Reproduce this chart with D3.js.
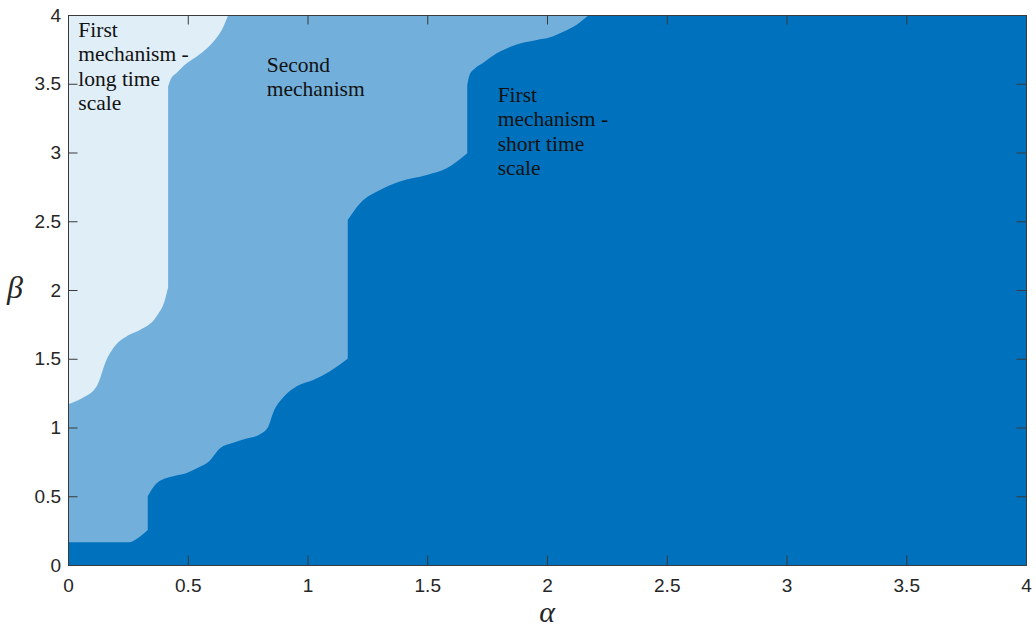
<!DOCTYPE html>
<html>
<head>
<meta charset="utf-8">
<script src="https://cdn.jsdelivr.net/npm/d3@7"></script>
<style>
  html, body { margin: 0; padding: 0; background: #ffffff; }
  svg { display: block; }
</style>
</head>
<body>
<svg id="chart" width="1036" height="629"></svg>
<script>
// Axis ticks
const xTicks = [0, 0.5, 1, 1.5, 2, 2.5, 3, 3.5, 4];
const yTicks = [0, 0.5, 1, 1.5, 2, 2.5, 3, 3.5, 4];

// Boundary between "first mechanism - long time scale" and "second mechanism"
const longAlpha = [0, 0.06, 0.12, 0.16, 0.19, 0.25, 0.30, 0.37, 0.405, 0.418, 0.418, 0.428, 0.454, 0.496, 0.530, 0.572, 0.607, 0.642, 0.669];
const longBeta  = [1.17, 1.215, 1.30, 1.49, 1.58, 1.67, 1.71, 1.81, 1.93, 2.02, 3.48, 3.53, 3.58, 3.649, 3.689, 3.745, 3.806, 3.891, 4.0];

// Boundary between "second mechanism" and "first mechanism - short time scale"
const shortAlpha = [0, 0.12, 0.252, 0.30, 0.333, 0.333, 0.37, 0.426, 0.496, 0.551, 0.586, 0.635, 0.69, 0.746, 0.80, 0.836, 0.857, 0.899, 0.955, 1.024, 1.094, 1.168, 1.168, 1.219, 1.303, 1.386, 1.498, 1.581, 1.667, 1.667, 1.676, 1.70, 1.734, 1.79, 1.859, 1.957, 2.013, 2.068, 2.124, 2.175];
const shortBeta  = [0.165, 0.165, 0.165, 0.206, 0.255, 0.50, 0.594, 0.64, 0.67, 0.715, 0.75, 0.85, 0.89, 0.92, 0.95, 1.006, 1.11, 1.22, 1.30, 1.345, 1.41, 1.50, 2.51, 2.63, 2.727, 2.79, 2.836, 2.885, 2.994, 3.49, 3.56, 3.612, 3.652, 3.721, 3.777, 3.818, 3.838, 3.879, 3.93, 4.0];

// Region labels
const regionLabels = [
  ["First", "mechanism -", "long time", "scale"],
  ["Second", "mechanism"],
  ["First", "mechanism -", "short time", "scale"]
];

const colors = { light: "#e0eef8", medium: "#72b0db", dark: "#0071bd", axis: "#3a3a3a", text: "#262626" };

const svg = d3.select("#chart");
const margin = { left: 68, right: 10, top: 15, bottom: 64 };
const W = 1036, H = 629;
const x = d3.scaleLinear().domain([0, 4]).range([margin.left, W - margin.right]);
const y = d3.scaleLinear().domain([0, 4]).range([H - margin.bottom, margin.top]);

svg.append("defs").append("clipPath").attr("id", "plotClip")
  .append("rect")
  .attr("x", x(0)).attr("y", y(4))
  .attr("width", x(4) - x(0)).attr("height", y(0) - y(4));

const plot = svg.append("g").attr("clip-path", "url(#plotClip)");

// Dark region fills the whole plot, lighter regions are layered on top
plot.append("rect")
  .attr("x", x(0)).attr("y", y(4))
  .attr("width", x(4) - x(0)).attr("height", y(0) - y(4))
  .attr("fill", colors.dark);

// Boundaries: smooth monotone curves where alpha increases, straight
// vertical steps where alpha stays constant.
const smooth = d3.line()
  .x(d => x(d[0])).y(d => y(d[1]))
  .curve(d3.curveMonotoneX);

function boundaryPath(alphas, betas) {
  const pts = alphas.map((a, i) => [a, betas[i]]);
  let d = "";
  let run = [pts[0]];
  const flush = () => {
    if (run.length > 1) {
      const seg = smooth(run);
      d += d === "" ? seg : "L" + seg.slice(1);
    }
  };
  for (let i = 1; i < pts.length; i++) {
    if (pts[i][0] === pts[i - 1][0]) {
      flush();
      if (d === "") d = `M${x(pts[i - 1][0])},${y(pts[i - 1][1])}`;
      d += `L${x(pts[i][0])},${y(pts[i][1])}`;
      run = [pts[i]];
    } else {
      run.push(pts[i]);
    }
  }
  flush();
  return d;
}

function regionPath(alphas, betas) {
  return boundaryPath(alphas, betas) + `L${x(0)},${y(4)}Z`;
}

plot.append("path")
  .attr("d", regionPath(shortAlpha, shortBeta))
  .attr("fill", colors.medium);

plot.append("path")
  .attr("d", regionPath(longAlpha, longBeta))
  .attr("fill", colors.light);

// Region labels
const labelAnchors = [[0.043, 3.842], [0.83, 3.588], [1.794, 3.37]];
const lineHeight = 24.5;
regionLabels.forEach((lines, k) => {
  const t = svg.append("text")
    .attr("x", x(labelAnchors[k][0]))
    .attr("y", y(labelAnchors[k][1]))
    .style("font-family", "'Liberation Serif', 'Times New Roman', serif")
    .style("font-size", "21.5px")
    .attr("fill", "#111");
  lines.forEach((s, i) => {
    t.append("tspan")
      .attr("x", x(labelAnchors[k][0]))
      .attr("dy", i === 0 ? 0 : lineHeight)
      .text(s);
  });
});

// Axes: ticks pointing inward on all four sides, box outline
const tickLen = 9.5;
const fmt = d => d3.format("~g")(d);

const axisBottom = d3.axisBottom(x).tickValues(xTicks).tickSize(-tickLen).tickPadding(14).tickFormat(fmt);
const axisTop = d3.axisTop(x).tickValues(xTicks).tickSize(-tickLen).tickFormat("");
const axisLeft = d3.axisLeft(y).tickValues(yTicks).tickSize(-tickLen).tickPadding(7).tickFormat(fmt);
const axisRight = d3.axisRight(y).tickValues(yTicks).tickSize(-tickLen).tickFormat("");

function styleAxis(g) {
  g.select(".domain").attr("stroke", colors.axis).attr("stroke-width", 1);
  g.selectAll(".tick line").attr("stroke", colors.axis).attr("stroke-width", 1);
  g.selectAll(".tick text")
    .attr("fill", colors.text)
    .style("font-family", "'Liberation Sans', Arial, sans-serif")
    .style("font-size", "19px");
}

svg.append("g").attr("transform", `translate(0,${y(0)})`).call(axisBottom).call(styleAxis);
svg.append("g").attr("transform", `translate(0,${y(4)})`).call(axisTop).call(styleAxis);
svg.append("g").attr("transform", `translate(${x(0)},0)`).call(axisLeft).call(styleAxis);
svg.append("g").attr("transform", `translate(${x(4)},0)`).call(axisRight).call(styleAxis);

// Axis titles
svg.append("text")
  .attr("x", x(2)).attr("y", 622)
  .attr("text-anchor", "middle")
  .style("font-family", "'Liberation Serif', 'Times New Roman', serif")
  .style("font-style", "italic")
  .style("font-size", "30px")
  .attr("fill", colors.text)
  .text("α");

svg.append("text")
  .attr("x", 15).attr("y", 298)
  .attr("text-anchor", "middle")
  .style("font-family", "'Liberation Serif', 'Times New Roman', serif")
  .style("font-style", "italic")
  .style("font-size", "32px")
  .attr("fill", colors.text)
  .text("β");
</script>
</body>
</html>
